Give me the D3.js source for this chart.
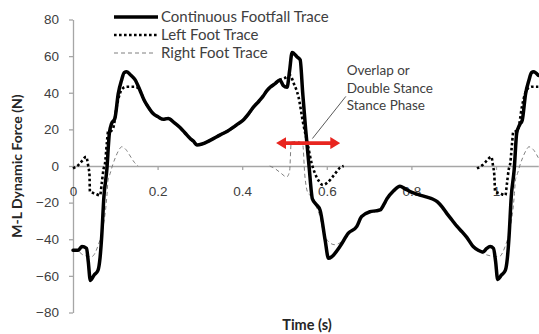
<!DOCTYPE html>
<html lang="en">
<head>
<meta charset="utf-8">
<title>M-L Dynamic Force</title>
<script src="https://cdn.jsdelivr.net/npm/d3@7/dist/d3.min.js"></script>
<style>
  body { margin: 0; background: #fff; }
  svg { display: block; font-family: Lato, "Open Sans", sans-serif; }
</style>
</head>
<body>
<svg width="539" height="334"></svg>
<script>
// series: [time (s), force (N)], null = no trace
var continuousTrace = [
  [0, -46], [0.012, -46], [0.021, -44], [0.032, -45], [0.036, -52], [0.041, -62.5], [0.05, -59.5],
  [0.059, -57], [0.064, -50], [0.068, -38], [0.073, -17], [0.08, -2], [0.086, 18], [0.091, 23],
  [0.099, 26], [0.107, 39.5], [0.115, 47], [0.121, 51], [0.127, 51.5], [0.137, 49.5], [0.147, 47],
  [0.158, 41.5], [0.168, 36], [0.177, 32.5], [0.19, 28.5], [0.2, 27], [0.213, 25.5], [0.225, 26],
  [0.24, 23.5], [0.253, 21], [0.265, 18], [0.277, 15], [0.285, 13.5], [0.293, 11.5], [0.305, 12],
  [0.324, 14], [0.348, 17], [0.365, 19], [0.378, 21], [0.39, 23], [0.402, 25], [0.415, 28.5],
  [0.426, 32], [0.44, 35.5], [0.449, 38], [0.458, 41], [0.466, 43], [0.478, 45], [0.489, 47],
  [0.497, 44], [0.506, 43], [0.512, 52], [0.518, 62], [0.53, 59.5], [0.537, 58], [0.543, 40],
  [0.55, 20], [0.558, 0], [0.566, -18], [0.575, -21], [0.584, -24], [0.596, -40.4], [0.604, -50.4],
  [0.612, -49.5], [0.631, -44], [0.651, -36.7], [0.671, -33], [0.682, -27.7], [0.702, -25],
  [0.715, -24.5], [0.726, -24], [0.735, -21], [0.742, -18], [0.758, -13.5], [0.773, -11],
  [0.785, -12.5], [0.797, -14], [0.815, -15.5], [0.837, -17], [0.85, -18], [0.861, -19.5],
  [0.873, -22.5], [0.884, -26], [0.896, -29.5], [0.908, -33], [0.92, -36], [0.931, -39],
  [0.946, -44], [0.958, -46], [0.969, -47], [0.978, -45], [0.986, -44], [0.994, -45], [0.999, -52],
  [1.004, -62], [1.013, -59.5], [1.022, -57], [1.027, -50], [1.031, -38], [1.036, -17], [1.043, -2],
  [1.049, 18], [1.056, 22.5], [1.062, 25], [1.07, 39.5], [1.078, 47], [1.084, 51], [1.089, 51.5],
  [1.1, 49.5]
];

var leftFootTrace = [
  [0, -1.3], [0.0125, 0.5], [0.02, 2.4], [0.031, 5], [0.036, 0], [0.039, -5], [0.04, -14],
  [0.052, -15], [0.064, -16], [0.068, -9.4], [0.072, -2], [0.076, 2], [0.08, 12.5], [0.083, 18.7],
  [0.089, 19], [0.095, 20.7], [0.103, 32], [0.111, 39.7], [0.118, 42.5], [0.127, 43.3],
  [0.147, 43.3], [0.158, 41.5], [0.168, 36], [0.177, 32.5], [0.19, 28.5], [0.2, 27], [0.213, 25.5],
  [0.225, 26], [0.24, 23.5], [0.253, 21], [0.265, 18], [0.277, 15], [0.285, 13.5], [0.293, 11.5],
  [0.305, 12], [0.324, 14], [0.348, 17], [0.365, 19], [0.378, 21], [0.39, 23], [0.402, 25],
  [0.415, 28.5], [0.426, 32], [0.44, 35.5], [0.449, 38], [0.458, 41], [0.466, 43], [0.478, 45],
  [0.489, 47], [0.5, 48], [0.513, 49.5], [0.522, 45], [0.533, 37.8], [0.544, 23.5], [0.556, 10.5],
  [0.564, 1.6], [0.572, -4], [0.582, -8.5], [0.591, -10.4], [0.602, -9], [0.617, -5], [0.631, -1],
  [0.64, 0], null,
  [0.955, -1.3], [0.968, 0.5], [0.976, 2.4], [0.989, 5], [0.993, 0], [0.996, -5], [0.998, -14],
  [1.01, -15], [1.022, -16], [1.026, -9.4], [1.03, -2], [1.034, 2], [1.038, 12.5], [1.041, 18.7],
  [1.047, 19], [1.053, 20.7], [1.061, 32], [1.069, 39.7], [1.076, 42.5], [1.085, 43.3], [1.1, 43.3]
];

var rightFootTrace = [
  [0, -46], [0.012, -46.5], [0.024, -48.6], [0.044, -49.5], [0.06, -43], [0.068, -36.7],
  [0.08, -16.7], [0.083, -7.6], [0.088, -4], [0.093, 0], [0.1, 4.5], [0.108, 8.5], [0.115, 10.5],
  [0.125, 9], [0.135, 5.5], [0.145, 2], [0.154, 0], null,
  [0.465, 0], [0.478, -1.5], [0.492, -4], [0.505, -6], [0.512, -3], [0.516, 13], [0.53, 13.5],
  [0.543, 12], [0.548, -5], [0.556, -15], [0.567, -17], [0.575, -22], [0.584, -27.7], [0.592, -36],
  [0.604, -41.3], [0.619, -43], [0.631, -42], [0.651, -36.7], [0.671, -33], [0.682, -27.7],
  [0.702, -25], [0.726, -24], [0.742, -18], [0.773, -11], [0.797, -14], [0.837, -17], [0.861, -19.5],
  [0.884, -26], [0.908, -33], [0.931, -39], [0.946, -44], [0.958, -46.5], [0.975, -48.3],
  [0.99, -49.2], [1.007, -49.5], [1.023, -43], [1.031, -36.7], [1.043, -16.7], [1.046, -7.6],
  [1.051, -4], [1.056, 0], [1.063, 4.5], [1.071, 8.5], [1.078, 10.5], [1.088, 9], [1.1, 4.5]
];

var xTicks = [0, 0.2, 0.4, 0.6, 0.8, 1];
var yTicks = [-80, -60, -40, -20, 0, 20, 40, 60, 80];
var legendLabels = ["Continuous Footfall Trace", "Left Foot Trace", "Right Foot Trace"];
var noteLines = ["Overlap or", "Double Stance", "Stance Phase"];
// double-stance arrow span (s) at force level (N), and leader line ends
var overlapSpan = [0.48, 0.632], overlapLevel = 12.5;
var leaderFrom = [0.645, 38], leaderTo = [0.566, 15];

var svg = d3.select("svg");
var x = d3.scaleLinear().domain([0, 1.1]).range([73, 538.3]);
var y = d3.scaleLinear().domain([-80, 80]).range([312.5, 19.5]);

var axisGrey = "#a6a6a6", textGrey = "#404040";

// y axis
var gy = svg.append("g")
    .attr("transform", "translate(" + x(0) + ",0)")
    .call(d3.axisLeft(y).tickValues(yTicks).tickSize(4).tickPadding(10).tickSizeOuter(0));
gy.select(".domain").attr("stroke", axisGrey).attr("stroke-width", 1.3);
gy.selectAll(".tick line").attr("stroke", axisGrey).attr("stroke-width", 1.3);
gy.selectAll("text").attr("font-size", 13.5).attr("fill", textGrey).attr("font-family", null);

// x axis through zero
var gx = svg.append("g")
    .attr("transform", "translate(0," + y(0) + ")")
    .call(d3.axisBottom(x).tickValues(xTicks).tickFormat(d3.format("")).tickSize(4).tickPadding(16).tickSizeOuter(0));
gx.select(".domain").attr("stroke", axisGrey).attr("stroke-width", 1.3);
gx.selectAll(".tick line").attr("stroke", axisGrey).attr("stroke-width", 1.3);
gx.selectAll("text").attr("font-size", 13.5).attr("fill", textGrey).attr("font-family", null);

// axis titles
svg.append("text")
    .attr("transform", "translate(22," + y(0) + ") rotate(-90)")
    .attr("text-anchor", "middle")
    .attr("font-size", 14).attr("font-weight", "bold").attr("fill", "#262626")
    .text("M-L Dynamic Force (N)");
svg.append("text")
    .attr("x", 307).attr("y", 330)
    .attr("text-anchor", "middle")
    .attr("font-size", 14.5).attr("font-weight", "bold").attr("fill", "#262626")
    .text("Time (s)");

var line = d3.line()
    .defined(function(d) { return d !== null; })
    .x(function(d) { return x(d[0]); })
    .y(function(d) { return y(d[1]); })
    .curve(d3.curveMonotoneX);

var styles = [
  {stroke: "#000", width: 3.5, dash: null, cap: "round"},
  {stroke: "#000", width: 2.6, dash: "2.6,2.4", cap: "butt"},
  {stroke: "#7f7f7f", width: 1, dash: "4,3", cap: "butt"}
];

// right foot, left foot, then continuous on top
var series = [continuousTrace, leftFootTrace, rightFootTrace];
[2, 1, 0].forEach(function(i) {
  svg.append("path")
      .datum(series[i])
      .attr("fill", "none")
      .attr("stroke", styles[i].stroke)
      .attr("stroke-width", styles[i].width)
      .attr("stroke-dasharray", styles[i].dash)
      .attr("stroke-linecap", styles[i].cap)
      .attr("stroke-linejoin", "round")
      .attr("d", line);
});

// legend
var legend = svg.append("g").selectAll("g")
    .data(legendLabels)
    .enter().append("g")
    .attr("transform", function(d, i) { return "translate(0," + (17 + i * 18) + ")"; });
legend.append("line")
    .attr("x1", 114).attr("x2", function(d, i) { return i == 2 ? 153 : 158; })
    .attr("stroke", function(d, i) { return styles[i].stroke; })
    .attr("stroke-width", function(d, i) { return styles[i].width; })
    .attr("stroke-dasharray", function(d, i) { return styles[i].dash; });
legend.append("text")
    .attr("x", 161).attr("dy", "0.35em")
    .attr("font-size", 15).attr("fill", textGrey)
    .text(function(d) { return d; });

// annotation: leader line + note
svg.append("line")
    .attr("x1", x(leaderFrom[0])).attr("y1", y(leaderFrom[1]))
    .attr("x2", x(leaderTo[0])).attr("y2", y(leaderTo[1]))
    .attr("stroke", "#595959").attr("stroke-width", 1);
svg.append("g").selectAll("text")
    .data(noteLines)
    .enter().append("text")
    .attr("x", x(0.647))
    .attr("y", function(d, i) { return 75 + i * 17.5; })
    .attr("font-size", 13.5).attr("fill", textGrey)
    .text(function(d) { return d; });

// red double-headed arrow
var defs = svg.append("defs");
["start", "end"].forEach(function(k) {
  defs.append("marker")
      .attr("id", "head-" + k)
      .attr("markerUnits", "userSpaceOnUse")
      .attr("viewBox", "0 0 10 12")
      .attr("refX", 2).attr("refY", 6)
      .attr("markerWidth", 10).attr("markerHeight", 12)
      .attr("orient", k == "start" ? "auto-start-reverse" : "auto")
      .append("path")
      .attr("d", "M0,0L10,6L0,12Z")
      .attr("fill", "#e8251f");
});
svg.append("line")
    .attr("x1", x(overlapSpan[0]) + 8).attr("x2", x(overlapSpan[1]) - 8)
    .attr("y1", y(overlapLevel)).attr("y2", y(overlapLevel))
    .attr("stroke", "#e8251f").attr("stroke-width", 3.6)
    .attr("marker-start", "url(#head-start)")
    .attr("marker-end", "url(#head-end)");
</script>
</body>
</html>
